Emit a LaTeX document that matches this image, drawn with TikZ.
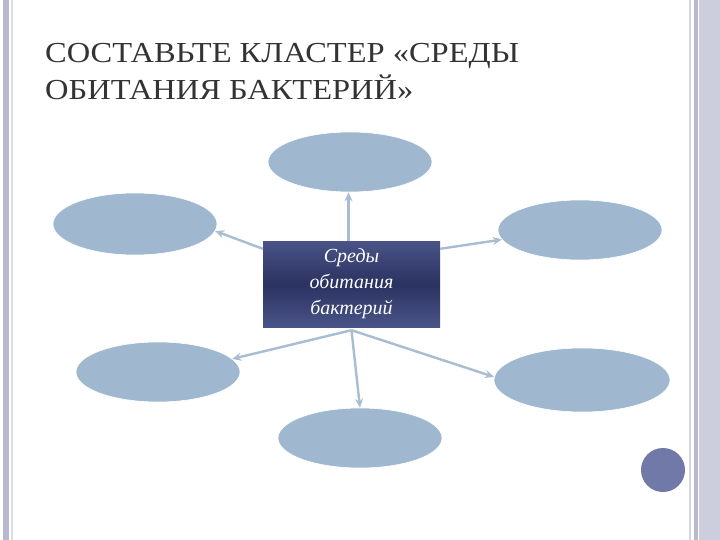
\documentclass[tikz,border=0pt]{standalone}
\usepackage{fontspec}
\setmainfont{Liberation Serif}
\usetikzlibrary{arrows.meta,shapes.geometric}
\definecolor{ell}{HTML}{9FB8D0}
\definecolor{arr}{HTML}{A9BDD2}
\definecolor{navy}{HTML}{2A3260}
\definecolor{navyl}{HTML}{4A5488}
\definecolor{bar}{HTML}{B8B9CE}
\definecolor{dot}{HTML}{7079A8}
\tikzset{bub/.style={ellipse,fill=ell,draw=white,line width=0.6pt},
 con/.style={draw=arr,line width=2.4pt,-{Stealth[length=9pt,width=8pt]}},
 ttl/.style={anchor=base west,text=black!80,font=\fontsize{29}{29}\selectfont,inner sep=0,xscale=1.12}}
\begin{document}
\begin{tikzpicture}[x=1pt,y=-1pt]
\useasboundingbox (0,0) rectangle (720,540);
\fill[white] (0,0) rectangle (720,540);
\fill[bar] (3,0) rectangle (9,540);
\fill[bar!50] (11,0) rectangle (13,540);
\fill[bar!60] (689,0) rectangle (691,540);
\fill[bar] (694,0) rectangle (698,540);
\fill[bar!70] (699,0) rectangle (720,540);
\node[ttl] (t1) at (45,63) {СОСТАВЬТЕ КЛАСТЕР «СРЕДЫ};
\node[ttl] (t2) at (45,100) {ОБИТАНИЯ БАКТЕРИЙ»};
\node[bub,minimum width=164,minimum height=60] (top) at (350,162) {};
\node[bub,minimum width=164,minimum height=62] (left) at (135,224) {};
\node[bub,minimum width=164,minimum height=60] (right) at (580,230) {};
\node[bub,minimum width=164,minimum height=60] (bl) at (158,372) {};
\node[bub,minimum width=176,minimum height=64] (br) at (582,380) {};
\node[bub,minimum width=164,minimum height=60] (bot) at (360,438) {};
\node[circle,fill=dot,minimum size=44,inner sep=0] (dotc) at (663,470) {};
\shade[top color=navyl,bottom color=navyl,middle color=navy] (263,241) rectangle (440,327);
\node[minimum width=177,minimum height=86,inner sep=0,align=center,text=white,font=\itshape\fontsize{20}{26}\selectfont] (c) at (351.5,284) {Среды\\обитания\\бактерий};
\coordinate (cn) at ([xshift=-3pt]c.north);
\draw[con] (cn) -- (cn |- top.south);
\coordinate (cw) at ([yshift=-8pt]c.north west);
\coordinate (ce) at ([yshift=-8pt]c.north east);
\draw[con] (cw) -- (left.-5);
\draw[con] (ce) -- (right.187);
\coordinate (cs) at ([yshift=-3pt]c.south);
\draw[con] (cs) -- (bl.10);
\draw[con] (cs) -- (br.178);
\draw[con] (cs) -- (bot.north);
\end{tikzpicture}
\end{document}
